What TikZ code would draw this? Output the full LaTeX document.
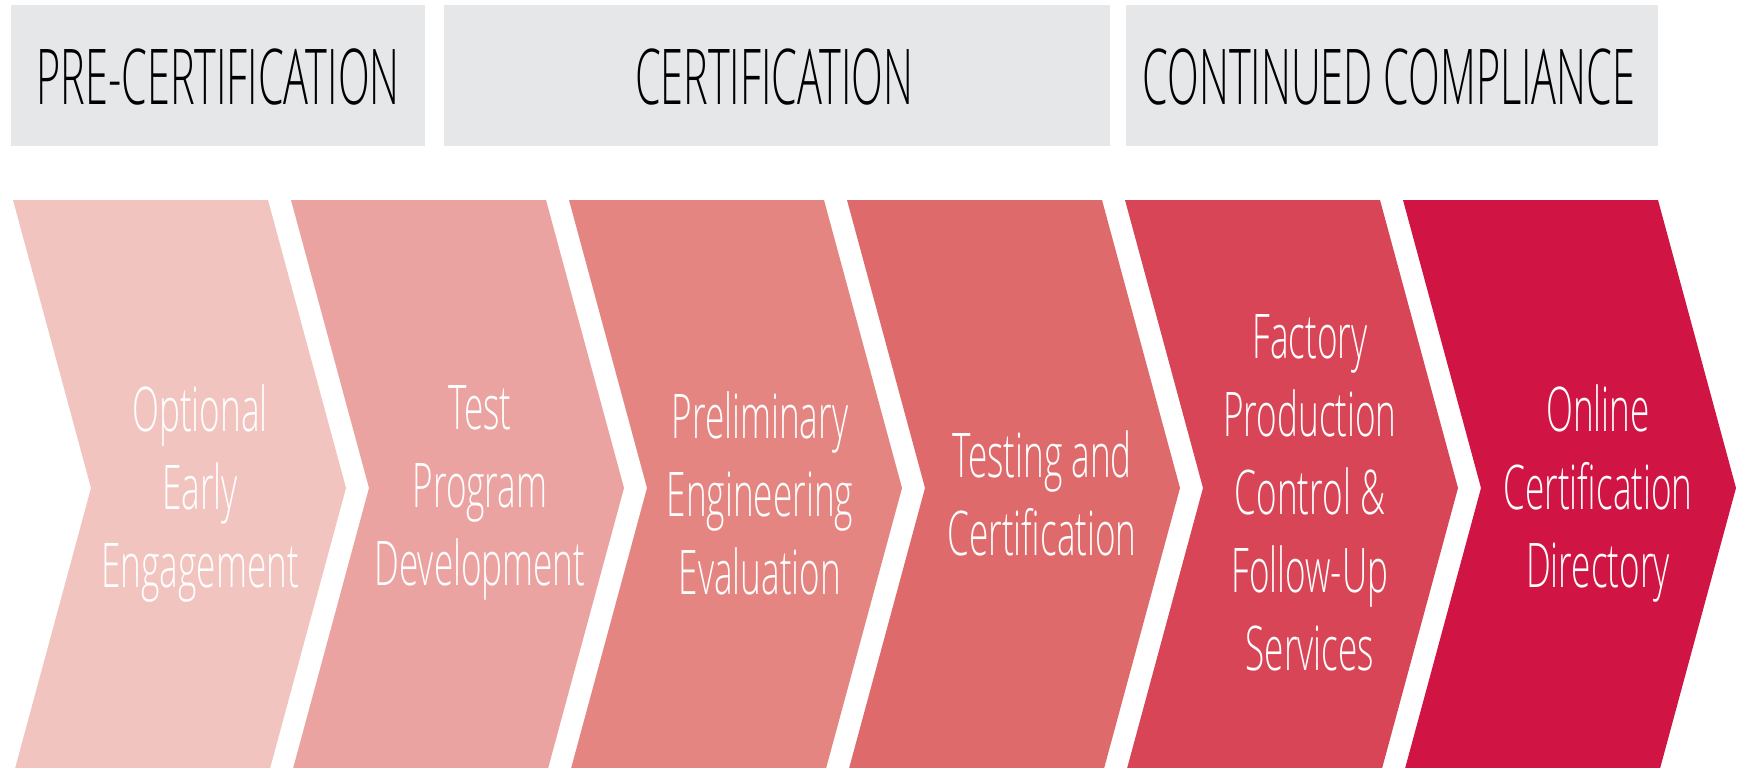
\documentclass[tikz,border=0pt]{standalone}
\usepackage{fontspec}
\setmainfont{Open Sans Light}[FakeStretch=0.57]
\newfontfamily\hdrfont{Open Sans Light}[FakeStretch=0.538]
\definecolor{hdr}{HTML}{E6E7E8}
\definecolor{cA}{HTML}{F2C4C0}
\definecolor{cB}{HTML}{EBA3A1}
\definecolor{cC}{HTML}{E48582}
\definecolor{cD}{HTML}{DF6A6B}
\definecolor{cE}{HTML}{D84557}
\definecolor{cF}{HTML}{D01545}
\begin{document}
\begin{tikzpicture}[x=1pt,y=-1pt,
  hdrtext/.style={font=\hdrfont\fontsize{77}{80}\selectfont, text=black, inner sep=0pt},
  chevtext/.style={font=\fontsize{61.6}{78}\selectfont, text=white, align=center, inner sep=0pt}]
\useasboundingbox (0,0) rectangle (1738,768);
\fill[white] (0,0) rectangle (1738,768);
% header boxes
\fill[hdr] (11,5.5) rectangle (425,146);
\fill[hdr] (444,5.5) rectangle (1110,146);
\fill[hdr] (1126,5.5) rectangle (1658,146);
\node[hdrtext] (h1) at (218,76.5) {PRE-CERTIFICATION};
\node[hdrtext] (h2) at (774,76.5) {CERTIFICATION};
\node[hdrtext] (h3) at (1389,76.5) {CONTINUED COMPLIANCE};
% chevrons
\begin{scope}
\clip (0,0) rectangle (1738,768);
\foreach \i/\c in {0/cA,1/cB,2/cC,3/cD,4/cE,5/cF}{
  \pgfmathsetmacro{\xl}{13+278*\i}
  \fill[\c] (\xl,200) -- ({\xl+255},200) -- ({\xl+333},488) -- ({\xl+255},776) -- (\xl,776) -- ({\xl+78},488) -- cycle;
}
\end{scope}
\node[chevtext] (t1) at (200,493) {Optional\\Early\\Engagement};
\node[chevtext] (t2) at (480,493) {Test\\Program\\Development};
\node[chevtext] (t3) at (760,493) {Preliminary\\Engineering\\Evaluation};
\node[chevtext] (t4) at (1042,493) {Testing and\\Certification};
\node[chevtext] (t5) at (1310,493) {Factory\\Production\\Control \&\\Follow-Up\\Services};
\node[chevtext] (t6) at (1598,493) {Online\\Certification\\Directory};
\end{tikzpicture}
\end{document}
